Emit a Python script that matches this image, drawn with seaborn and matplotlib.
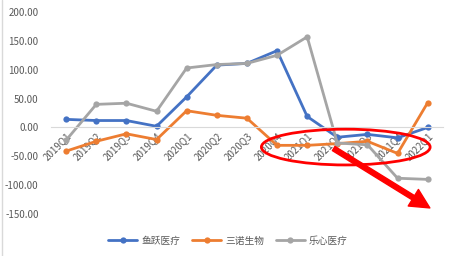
import matplotlib
matplotlib.use("Agg")
import matplotlib.pyplot as plt
import seaborn as sns
import pandas as pd
from matplotlib.patches import Ellipse, FancyArrowPatch

quarters = ["2019Q1", "2019Q2", "2019Q3", "2019Q4", "2020Q1", "2020Q2", "2020Q3",
            "2020Q4", "2021Q1", "2021Q2", "2021Q3", "2021Q4", "2022Q1"]
yuyue = [14, 12, 12, 2, 53, 108, 111, 133, 19, -17, -12, -18, 0]
sannuo = [-41, -24, -11, -21, 29, 21, 16, -31, -31, -28, -24, -45, 43]
lexin = [-22, 40, 42, 28, 103, 109, 111, 125, 157, -27, -30, -88, -90]
series_names = ["鱼跃医疗", "三诺生物", "乐心医疗"]
colors = ["#4472C4", "#ED7D31", "#A5A5A5"]

sns.set_theme(style="white")
plt.rcParams['font.family'] = ['Noto Sans CJK SC', 'DejaVu Sans']

rows = []
for name, vals in zip(series_names, [yuyue, sannuo, lexin]):
    for i, v in enumerate(vals):
        rows.append({"idx": i, "value": v, "series": name})
df = pd.DataFrame(rows)

fig = plt.figure(figsize=(4.56, 2.56), dpi=100)
ax = fig.add_axes([0.112, 0.164, 0.859, 0.789])

sns.lineplot(data=df, x="idx", y="value", hue="series", hue_order=series_names,
             palette=colors, marker="o", markersize=4.5, markeredgewidth=0,
             linewidth=2, ax=ax, legend=True)

for s in ["top", "right", "left"]:
    ax.spines[s].set_visible(False)
ax.spines["bottom"].set_position(("data", 0))
ax.spines["bottom"].set_color("#D9D9D9")
ax.spines["bottom"].set_linewidth(0.8)

ax.set_xlim(-0.5, len(quarters) - 0.5)
ax.set_ylim(-150, 200)
ax.set_yticks([-150, -100, -50, 0, 50, 100, 150, 200])
ax.set_yticklabels([f"{v:.2f}" for v in [-150, -100, -50, 0, 50, 100, 150, 200]],
                   fontsize=7, color="#595959")
ax.set_xticks(range(len(quarters)))
ax.set_xticklabels(quarters, rotation=45, ha="right", va="top", fontsize=7,
                   color="#595959", rotation_mode="anchor")
ax.tick_params(axis="x", length=0, pad=2)
ax.tick_params(axis="y", length=0, pad=9)
ax.set_xlabel("")
ax.set_ylabel("")

# red annotation ellipse and arrow
ell = Ellipse((9.28, -34), 5.6, 62, fill=False, edgecolor="#FF0000", linewidth=2, zorder=5)
ax.add_patch(ell)
arr = FancyArrowPatch((8.8, -34), (12.15, -142),
                      arrowstyle="simple,head_width=14,head_length=14,tail_width=3.5",
                      color="#FF0000", zorder=6, clip_on=False, mutation_scale=1)
ax.add_patch(arr)

handles, labels = ax.get_legend_handles_labels()
leg = ax.legend(handles, labels, loc="center", ncol=3, frameon=False,
                fontsize=7, handlelength=3, columnspacing=1.2, handletextpad=0.4)
leg.set_bbox_to_anchor((0.5, 0.06), transform=fig.transFigure)
for t in leg.get_texts():
    t.set_color("#595959")

# chart border left edge
fig.add_artist(plt.Line2D([0.004, 0.004], [0, 1], color="#D9D9D9", linewidth=1))

fig.savefig("out.png", dpi=100)
